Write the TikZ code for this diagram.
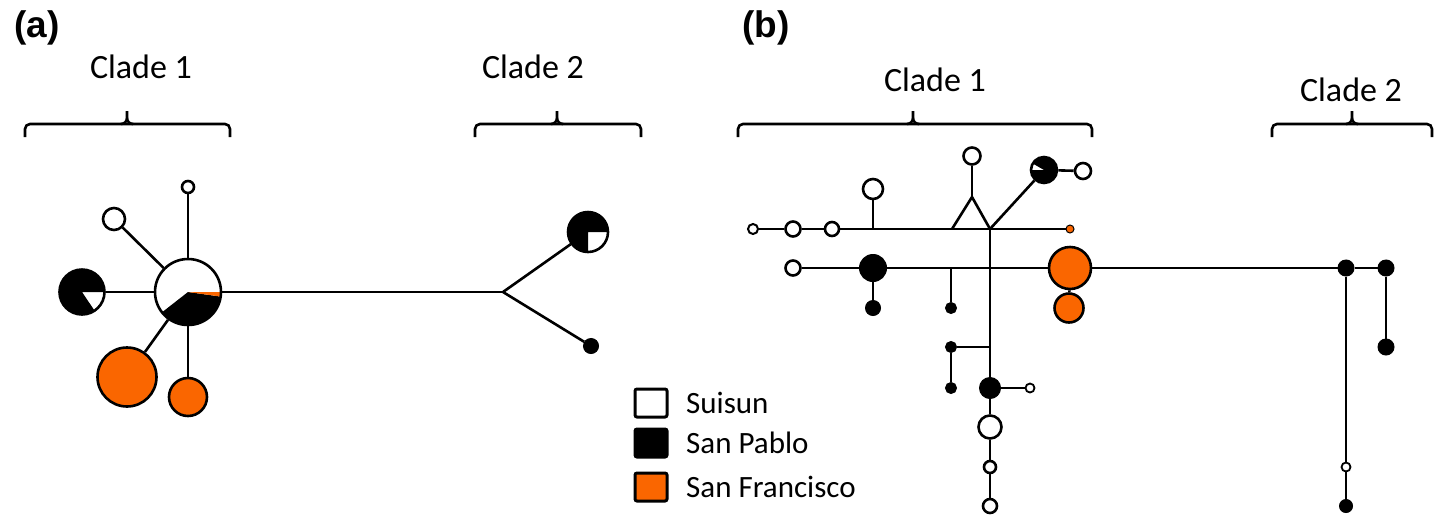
\documentclass[tikz,border=0pt]{standalone}
\usepackage{fontspec}
\setmainfont{Carlito}
\newfontfamily\labfont{Liberation Sans}
\definecolor{sforange}{RGB}{250,102,0}
\newcommand\sect[3]{\fill[#1] (path picture bounding box.center) -- ++(#2:80pt) arc[start angle=#2, end angle=#3, radius=80pt] -- cycle;}
\newcommand\cladebrace[3]{%
  \draw[brace, rounded corners=5pt] (#1,-137) -- (#1,-124) -- (#3,-124) -- (#3,-137);
  \draw[brace] (#2-6,-124) to[out=0,in=-90] (#2,-118) -- (#2,-111);
  \draw[brace] (#2+6,-124) to[out=180,in=-90] (#2,-118);}
\begin{document}
\begin{tikzpicture}[x=1pt,y=1pt,
  hap/.style={circle,draw=black,line width=2.6pt,inner sep=0pt,minimum size=#1,fill=white},
  hap/.default=12,
  dot/.style={circle,draw=black,fill=black,line width=1pt,inner sep=0pt,minimum size=#1},
  dot/.default=12,
  edge/.style={line width=2.6pt},
  brace/.style={line width=2.6pt},
  cladelab/.style={font=\fontsize{34}{40}\selectfont},
  legtext/.style={font=\fontsize{31}{36}\selectfont,anchor=west,inner sep=0pt},
  legbox/.style={draw=black,line width=3pt,minimum width=32pt,minimum height=28pt,inner sep=0pt,rounded corners=2pt},
  panlab/.style={font=\labfont\bfseries\fontsize{37}{42}\selectfont}]
\fill[white] (0,0) rectangle (1455,-515);
\useasboundingbox (0,0) rectangle (1455,-515);

% panel labels
\node[panlab] (pa) at (37,-28) {(a)};
\node[panlab] (pb) at (766,-28) {(b)};

% clade labels and braces
\node[cladelab] (ac1) at (141,-67) {Clade 1};
\node[cladelab] (ac2) at (533,-67) {Clade 2};
\node[cladelab] (bc1) at (935,-80) {Clade 1};
\node[cladelab] (bc2) at (1351,-90) {Clade 2};
\cladebrace{25}{127}{230}
\cladebrace{475}{557}{641}
\cladebrace{738}{913}{1092}
\cladebrace{1272}{1352}{1432}

% ---------- panel (a) ----------
\node[hap=66, path picture={\sect{black}{218}{352}\sect{sforange}{352}{360}}] (a0) at (188,-292) {};
\node[hap=45, path picture={\sect{black}{0}{304}}] (a1) at (82,-292) {};
\node[hap=22] (a2) at (114,-219) {};
\node[hap=12] (a3) at (188,-187) {};
\node[hap=59, fill=sforange] (a4) at (127,-377) {};
\node[hap=38, fill=sforange] (a5) at (188,-397) {};
\coordinate (aj) at (503,-292);
\node[hap=40, path picture={\sect{black}{0}{270}}] (a6) at (588,-232) {};
\node[dot=15] (a7) at (591,-346) {};

\draw[edge] (a1) -- (a0);
\draw[edge] (a2) -- (a0);
\draw[edge] (a3) -- (a0);
\draw[edge] (a4) -- (a0);
\draw[edge] (a5) -- (a0);
\draw[edge] (a0) -- (aj);
\draw[edge] (aj) -- (a6);
\draw[edge] (aj) -- (a7);

% ---------- legend ----------
\node[legbox, fill=white] (l1) at (651,-403) {};
\node[legbox, fill=black] (l2) at (651,-443) {};
\node[legbox, fill=sforange] (l3) at (651,-487) {};
\node[legtext] (t1) at (686,-403) {Suisun};
\node[legtext] (t2) at (686,-443) {San Pablo};
\node[legtext] (t3) at (686,-487) {San Francisco};

% ---------- panel (b) ----------
\node[hap=10, line width=2pt] (b1) at (753,-229) {};
\node[hap=15] (b2) at (793,-229) {};
\node[hap=14] (b3) at (832,-229) {};
\coordinate (bj1) at (873,-229);
\node[hap=20] (b4) at (873,-189) {};
\coordinate (bt1) at (952,-229);
\coordinate (bt2) at (990,-229);
\coordinate (bta) at (972,-197);
\node[hap=17] (b5) at (972,-156) {};
\node[hap=26, path picture={\sect{black}{180}{510}}] (b6) at (1044,-170) {};
\node[hap=16] (b7) at (1083,-171) {};
\node[hap=8, fill=sforange, line width=1pt] (b8) at (1070,-229) {};

\node[hap=15] (c1) at (793,-268) {};
\node[dot=27] (c2) at (873,-268) {};
\node[dot=15] (c3) at (873,-308) {};
\coordinate (cj) at (951,-268);
\node[dot=11] (c4) at (951,-308) {};
\coordinate (cx) at (990,-268);
\node[hap=42, fill=sforange] (c5) at (1070,-268) {};
\node[hap=29, fill=sforange] (c6) at (1069,-308) {};
\node[dot=16] (c7) at (1346,-268) {};
\node[dot=16] (c8) at (1386,-268) {};
\node[dot=16] (c9) at (1386,-347) {};
\node[hap=9, line width=1.8pt] (c10) at (1346,-467) {};
\node[dot=13] (c11) at (1346,-506) {};

\coordinate (dj) at (990,-347);
\node[dot=11] (d1) at (951,-347) {};
\node[dot=11] (d2) at (951,-388) {};
\node[dot=21] (d3) at (990,-388) {};
\node[hap=9, line width=1.8pt] (d4) at (1030,-388) {};
\node[hap=23] (d5) at (990,-427) {};
\node[hap=12] (d6) at (990,-467) {};
\node[hap=14] (d7) at (990,-506) {};

\draw[edge] (b1) -- (b2) -- (b3) -- (bj1) -- (bt1) -- (bt2) -- (b8);
\draw[edge] (bj1) -- (b4);
\draw[edge, line join=round] (bt1) -- (bta) -- (bt2);
\draw[edge] (bta) -- (b5);
\draw[edge] (bt2) -- (b6);
\draw[edge] (b6) -- (b7);
\draw[edge] (bt2) -- (cx) -- (dj) -- (d3);
\draw[edge] (d3) -- (d5);
\draw[edge] (d5) -- (d6);
\draw[edge] (d6) -- (d7);
\draw[edge] (dj) -- (d1);
\draw[edge] (d1) -- (d2);
\draw[edge] (d3) -- (d4);
\draw[edge] (c1) -- (c2);
\draw[edge] (c2) -- (cj) -- (cx) -- (c5);
\draw[edge] (c5) -- (c7);
\draw[edge] (c7) -- (c8);
\draw[edge] (c2) -- (c3);
\draw[edge] (cj) -- (c4);
\draw[edge] (c5) -- (c6);
\draw[edge] (c8) -- (c9);
\draw[edge] (c7) -- (c10);
\draw[edge] (c10) -- (c11);
\end{tikzpicture}
\end{document}
